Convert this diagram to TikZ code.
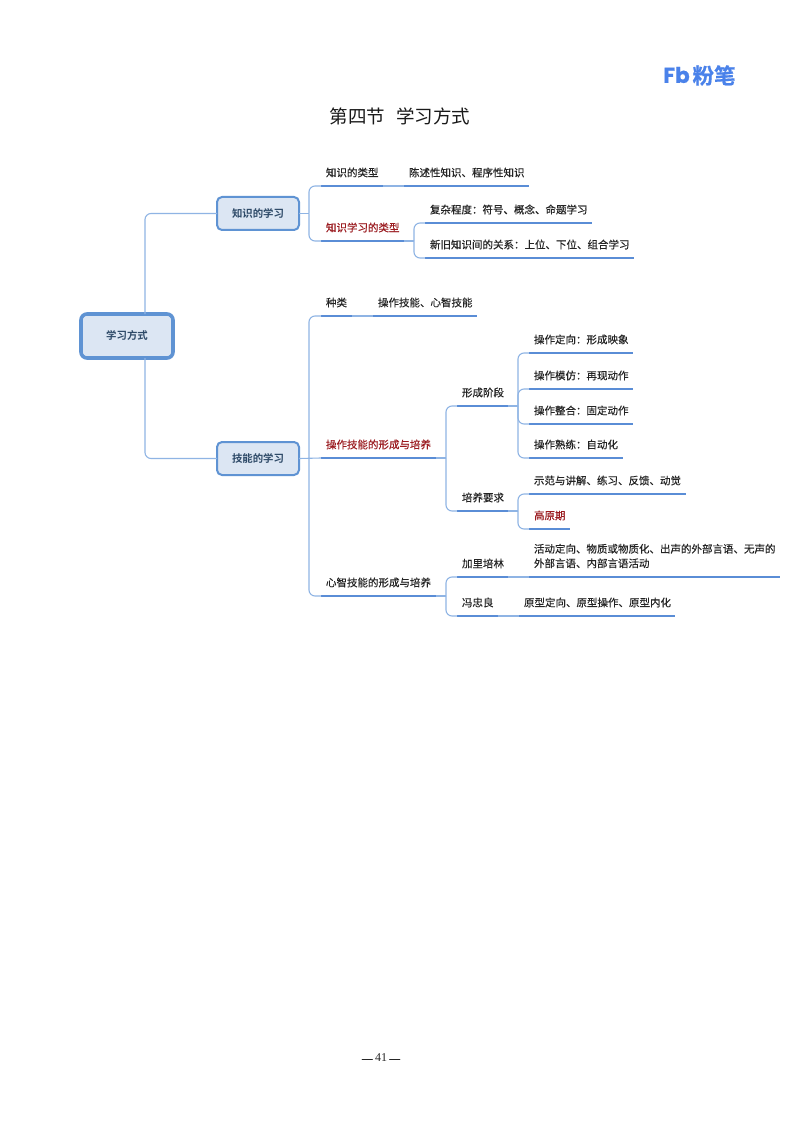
\documentclass[tikz,border=0pt]{standalone}
\usepackage{fontspec}
\setmainfont{Liberation Serif}
\newfontfamily\cjk[FakeBold=0.35]{Noto Sans CJK SC}
\newfontfamily\cjkplain{Noto Sans CJK SC}
\newfontfamily\cjkbold{Noto Sans CJK SC Bold}
\newfontfamily\cjkheavy[FakeBold=0.7]{Noto Sans CJK SC Bold}
\newfontfamily\latinbold[FakeBold=0.7]{Poppins Bold}
\newfontfamily\dashfont[FakeBold=1.2]{Liberation Serif}
\definecolor{linethin}{HTML}{8FB4E4}
\definecolor{linethick}{HTML}{5A8DD6}
\definecolor{boxfill}{HTML}{DCE6F3}
\definecolor{boxline}{HTML}{5F93D3}
\definecolor{boxtext}{HTML}{2E4A68}
\definecolor{redtext}{HTML}{9B1B20}
\definecolor{darktext}{HTML}{242424}
\definecolor{logoblue}{HTML}{4A82EA}
\tikzset{
  conn/.style={draw=linethin,line width=1.1pt,rounded corners=6pt},
  mainbox/.style={draw=boxline,fill=boxfill,rounded corners=5pt,inner sep=0pt,outer sep=0pt,
    font=\cjkbold\fontsize{10.4}{12}\selectfont,text=boxtext},
  topic/.style={anchor=south west,inner xsep=5pt,inner ysep=0pt,outer sep=0pt,minimum height=27pt,
    align=left,text=darktext,font=\cjk\fontsize{10.5}{14.5}\selectfont},
  redtopic/.style={topic,text=redtext},
  tallopic/.style={topic,minimum height=42pt},
  ul/.style={draw=linethick,line width=2.8pt}
}
\newcommand{\topicnode}[6][topic]{%
  \node[#1,text width=#5pt-10pt] (#2) at (#3,#4) {#6};
  \draw[ul] (#2.south west) -- (#2.south east);
}
\begin{document}
\begin{tikzpicture}[x=1pt,y=-1pt]
\useasboundingbox (0,0) rectangle (800,1131);
\fill[white] (0,0) rectangle (800,1131);

\node[font=\cjkplain\fontsize{18.5}{22}\selectfont,text=black!90] (title) at (400,116) {第四节\hspace{11pt}学习方式};
\node[text=logoblue,font=\latinbold\fontsize{21.5}{22}\selectfont,inner sep=0pt] (logoa) at (676.5,75) {Fb};
\node[text=logoblue,font=\cjkheavy\fontsize{21.5}{22}\selectfont,inner sep=0pt] (logob) at (714,75.5) {粉笔};
\node[text=black!85,inner sep=0pt] (page) at (381,1058) {{\dashfont\fontsize{10.5}{12}\selectfont —}\hspace{2.5pt}\fontsize{12}{12}\selectfont 41\hspace{2.5pt}{\dashfont\fontsize{10.5}{12}\selectfont —}};

\node[mainbox,line width=3.6pt,rounded corners=6pt,minimum width=92pt,minimum height=44pt] (root) at (127,336) {学习方式};
\node[mainbox,line width=2pt,minimum width=82pt,minimum height=33pt] (k1) at (258,213.5) {知识的学习};
\node[mainbox,line width=2pt,minimum width=82pt,minimum height=33pt] (k2) at (258,458.5) {技能的学习};

\topicnode{a1}{321}{186}{62}{知识的类型}
\topicnode{a1x}{404}{186}{125}{陈述性知识、程序性知识}
\topicnode[redtopic]{a2}{321}{241}{83}{知识学习的类型}
\topicnode{a2a}{425}{223}{167}{复杂程度：符号、概念、命题学习}
\topicnode{a2b}{425}{258}{209}{新旧知识间的关系：上位、下位、组合学习}

\topicnode{b1}{321}{316}{31}{种类}
\topicnode{b1x}{373}{316}{104}{操作技能、心智技能}
\topicnode[redtopic]{b2}{321}{458}{115}{操作技能的形成与培养}
\topicnode{b3}{321}{596}{115}{心智技能的形成与培养}

\topicnode{c1}{457}{406}{51}{形成阶段}
\topicnode{c2}{457}{511}{51}{培养要求}
\topicnode{d1}{529}{353}{104}{操作定向：形成映象}
\topicnode{d2}{529}{389}{104}{操作模仿：再现动作}
\topicnode{d3}{529}{424}{104}{操作整合：固定动作}
\topicnode{d4}{529}{458}{94}{操作熟练：自动化}
\topicnode{e1}{529}{494}{157}{示范与讲解、练习、反馈、动觉}
\topicnode[redtopic]{e2}{529}{529}{41}{高原期}

\topicnode{f1}{457}{577}{51}{加里培林}
\topicnode[tallopic]{f1x}{529}{577}{251}{活动定向、物质或物质化、出声的外部言语、无声的\\外部言语、内部言语活动}
\topicnode{f2}{457}{616}{41}{冯忠良}
\topicnode{f2x}{519}{616}{156}{原型定向、原型操作、原型内化}

% branch points
\coordinate (busk1) at ([xshift=10pt]k1.east);
\coordinate (busk2) at ([xshift=10pt]k2.east);
\coordinate (busa2) at ([xshift=10pt]a2.south east);
\coordinate (busb2) at ([xshift=10pt]b2.south east);
\coordinate (busb3) at ([xshift=10pt]b3.south east);
\coordinate (busc1) at ([xshift=10pt]c1.south east);
\coordinate (busc2) at ([xshift=10pt]c2.south east);

\draw[conn] ([xshift=-28pt]root.north east) |- (k1.west);
\draw[conn] ([xshift=-28pt]root.south east) |- (k2.west);
\draw[conn] (k1.east) -- (busk1);
\draw[conn] (busk1) |- (a1.south west);
\draw[conn] (busk1) |- (a2.south west);
\draw[conn] (a1.south east) -- (a1x.south west);
\draw[conn] (a2.south east) -- (busa2);
\draw[conn] (busa2) |- (a2a.south west);
\draw[conn] (busa2) |- (a2b.south west);
\draw[conn] (k2.east) -- (b2.south west);
\draw[conn] (busk2) |- (b1.south west);
\draw[conn] (busk2) |- (b3.south west);
\draw[conn] (b1.south east) -- (b1x.south west);
\draw[conn] (b2.south east) -- (busb2);
\draw[conn] (busb2) |- (c1.south west);
\draw[conn] (busb2) |- (c2.south west);
\draw[conn] (c1.south east) -- (busc1);
\draw[conn] (busc1) |- (d1.south west);
\draw[conn] (busc1) |- (d2.south west);
\draw[conn] (busc1) |- (d3.south west);
\draw[conn] (busc1) |- (d4.south west);
\draw[conn] (c2.south east) -- (busc2);
\draw[conn] (busc2) |- (e1.south west);
\draw[conn] (busc2) |- (e2.south west);
\draw[conn] (b3.south east) -- (busb3);
\draw[conn] (busb3) |- (f1.south west);
\draw[conn] (busb3) |- (f2.south west);
\draw[conn] (f1.south east) -- (f1x.south west);
\draw[conn] (f2.south east) -- (f2x.south west);
\end{tikzpicture}
\end{document}
